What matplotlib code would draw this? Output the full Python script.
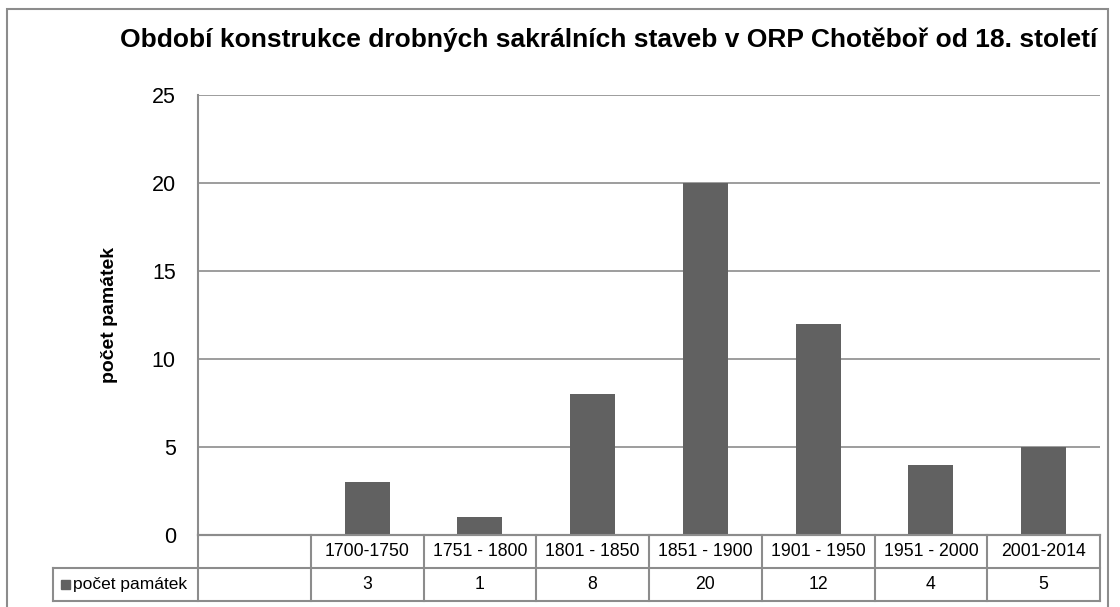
import matplotlib
matplotlib.use("Agg")
import matplotlib.pyplot as plt
from matplotlib.transforms import blended_transform_factory
from matplotlib.patches import Rectangle

plt.rcParams['font.family'] = ['Liberation Sans Narrow', 'Liberation Sans', 'DejaVu Sans']

# data
categories = ["", "1700-1750", "1751 - 1800", "1801 - 1850", "1851 - 1900",
              "1901 - 1950", "1951 - 2000", "2001-2014"]
counts = [None, 3, 1, 8, 20, 12, 4, 5]
series_name = "počet památek"
title = "Období konstrukce drobných sakrálních staveb v ORP Chotěboř od 18. století"
yticks = [0, 5, 10, 15, 20, 25]

bar_color = "#616161"
line_color = "#8c8c8c"

W, H = 1120, 607
fig = plt.figure(figsize=(W / 100, H / 100), dpi=100)

# outer chart border
fig.patches.append(Rectangle((7 / W, -0.01), (1108 - 7) / W, (H - 9) / H + 0.01,
                             transform=fig.transFigure, fill=False,
                             edgecolor=line_color, linewidth=1.5))

left, right, top, bottom = 198, 1100, 95, 535
ax = fig.add_axes([left / W, 1 - bottom / H, (right - left) / W, (bottom - top) / H])

xs = list(range(len(categories)))
vals = [v if v is not None else 0 for v in counts]
ax.bar(xs, vals, width=0.4, color=bar_color)
ax.set_xlim(-0.5, len(categories) - 0.5)
ax.set_ylim(0, 25)
ax.set_yticks(yticks)
ax.yaxis.grid(True, color=line_color, linewidth=1.2)
ax.set_axisbelow(True)
ax.tick_params(axis="y", length=0, pad=16, labelsize=15.5)
ax.set_xticks([])
for s in ["top", "right"]:
    ax.spines[s].set_visible(False)
ax.spines["left"].set_color(line_color)
ax.spines["left"].set_linewidth(1.5)
ax.spines["bottom"].set_color(line_color)
ax.spines["bottom"].set_linewidth(1.5)

ax.set_ylabel(series_name, fontsize=14, fontweight="bold", labelpad=24)
fig.text(609 / W, 1 - 40 / H, title, ha="center", va="center",
         fontsize=19, fontweight="bold")

# data table under the plot
tr = blended_transform_factory(ax.transData, ax.transAxes)
row_h = 33 / (bottom - top)
x_head = -0.5 + (53 - left) / ((right - left) / len(categories))
x_end = len(categories) - 0.5
kw = dict(color=line_color, linewidth=1.5, transform=tr, clip_on=False)
# horizontal lines
ax.plot([-0.5, x_end], [0, 0], **kw)
ax.plot([x_head, x_end], [-row_h, -row_h], **kw)
ax.plot([x_head, x_end], [-2 * row_h, -2 * row_h], **kw)
# vertical lines
ax.plot([x_head, x_head], [-row_h, -2 * row_h], **kw)
for i in range(len(categories) + 1):
    ax.plot([i - 0.5, i - 0.5], [0, -2 * row_h], **kw)

for i, (c, v) in enumerate(zip(categories, counts)):
    ax.text(i, -row_h / 2, c, ha="center", va="center", fontsize=12.7, transform=tr)
    ax.text(i, -1.5 * row_h, "" if v is None else str(v), ha="center", va="center",
            fontsize=12.7, transform=tr)

# legend key in header cell
hx = x_head + 0.07
ax.add_patch(Rectangle((hx, -1.5 * row_h - 0.011), 0.085, 0.022, transform=tr,
                       color=bar_color, clip_on=False))
ax.text(hx + 0.11, -1.5 * row_h, series_name, ha="left", va="center",
        fontsize=12.5, transform=tr)

fig.savefig("out.png", dpi=100)
